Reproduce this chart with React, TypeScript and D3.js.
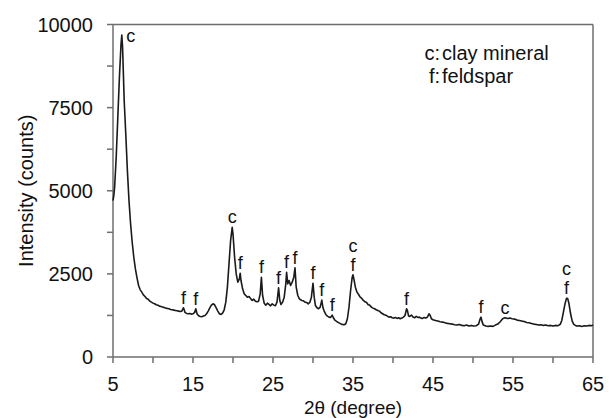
import React from "react";
import * as d3 from "d3";

const twoTheta = [
  5.0, 5.1, 5.2, 5.4, 5.6, 5.8, 6.0, 6.1, 6.2, 6.3, 6.4, 6.6, 6.8, 7.0, 7.2, 7.4, 7.6, 7.8, 8.0, 8.2, 8.4, 8.6, 8.8,
  9.0, 9.2, 9.4, 9.6, 9.8, 10.0, 10.2, 10.4, 10.6, 10.8, 11.0, 11.2, 11.4, 11.6, 11.8, 12.0, 12.2, 12.4, 12.6, 12.8,
  13.0, 13.2, 13.4, 13.6, 13.8, 13.9, 14.0, 14.2, 14.4, 14.6, 14.8, 15.0, 15.2, 15.35, 15.5, 15.7, 15.9, 16.1, 16.3,
  16.5, 16.7, 16.9, 17.1, 17.3, 17.5, 17.7, 17.9, 18.1, 18.3, 18.5, 18.7, 18.9, 19.1, 19.3, 19.5, 19.7, 19.9, 20.0,
  20.2, 20.4, 20.6, 20.8, 20.9, 21.0, 21.2, 21.4, 21.6, 21.8, 22.0, 22.2, 22.4, 22.6, 22.8, 23.0, 23.2, 23.4, 23.55,
  23.7, 23.9, 24.1, 24.3, 24.5, 24.7, 24.9, 25.1, 25.3, 25.5, 25.7, 25.85, 26.0, 26.2, 26.4, 26.6, 26.7, 26.85, 27.0,
  27.2, 27.4, 27.6, 27.75, 27.9, 28.1, 28.3, 28.6, 28.8, 29.0, 29.2, 29.4, 29.6, 29.8, 30.0, 30.15, 30.3, 30.5, 30.7,
  30.9, 31.1, 31.25, 31.4, 31.6, 31.8, 32.0, 32.2, 32.4, 32.55, 32.7, 33.0, 33.3, 33.6, 33.9, 34.1, 34.3, 34.5, 34.7,
  34.9, 35.0, 35.15, 35.3, 35.5, 35.7, 35.9, 36.1, 36.3, 36.5, 36.7, 36.9, 37.1, 37.3, 37.5, 37.7, 37.9, 38.1, 38.3,
  38.5, 38.7, 38.9, 39.1, 39.3, 39.5, 39.7, 39.9, 40.1, 40.3, 40.5, 40.7, 40.9, 41.1, 41.3, 41.5, 41.7, 41.8, 41.95,
  42.1, 42.3, 42.5, 42.7, 42.9, 43.1, 43.3, 43.5, 43.7, 43.9, 44.1, 44.3, 44.5, 44.65, 44.8, 45.0, 45.3, 45.6, 45.9,
  46.2, 46.5, 46.8, 47.1, 47.4, 47.7, 48.0, 48.3, 48.6, 48.9, 49.2, 49.5, 49.8, 50.1, 50.4, 50.7, 50.9, 51.0, 51.15,
  51.3, 51.6, 51.9, 52.2, 52.5, 52.8, 53.1, 53.4, 53.7, 54.0, 54.3, 54.6, 54.9, 55.2, 55.5, 55.8, 56.1, 56.4, 56.7,
  57.0, 57.3, 57.6, 57.9, 58.2, 58.5, 58.8, 59.1, 59.4, 59.7, 60.0, 60.3, 60.6, 60.9, 61.1, 61.3, 61.5, 61.7, 61.85,
  62.0, 62.2, 62.4, 62.6, 62.8, 63.0, 63.3, 63.6, 63.9, 64.2, 64.5, 64.8, 65.0,
];

const intensity = [
  4700, 4850, 5100, 6000, 7200, 8400, 9400, 9680, 9300, 8500, 7700, 6700, 5600, 4700, 4000, 3450, 3000, 2650, 2380, 2150, 2020, 1950, 1870,
  1820, 1760, 1740, 1680, 1650, 1620, 1600, 1570, 1560, 1530, 1520, 1500, 1490, 1470, 1460, 1450, 1430, 1420, 1410, 1400,
  1390, 1380, 1370, 1380, 1480, 1420, 1340, 1310, 1300, 1310, 1290, 1300, 1340, 1450, 1300, 1240, 1220, 1210, 1230,
  1250, 1300, 1380, 1480, 1560, 1600, 1570, 1480, 1380, 1300, 1280, 1320, 1420, 1650, 2100, 2800, 3500, 3900, 3700,
  3000, 2500, 2250, 2350, 2520, 2300, 2050, 1900, 1850, 1800, 1820, 1760, 1700, 1740, 1680, 1660, 1680, 1900, 2400,
  1850, 1620, 1560, 1620, 1580, 1540, 1600, 1560, 1540, 1650, 2080, 1700, 1580, 1650, 1800, 2200, 2550, 2200, 2300,
  2150, 2250, 2400, 2680, 2100, 1850, 1750, 1700, 1690, 1650, 1640, 1600, 1640, 1800, 2220, 1800, 1550, 1480, 1450,
  1500, 1710, 1480, 1380, 1280, 1230, 1200, 1190, 1260, 1180, 1120, 1060, 1020, 980, 970, 1000, 1150, 1500, 2000,
  2400, 2470, 2300, 2100, 1950, 1880, 1800, 1760, 1700, 1660, 1640, 1570, 1560, 1500, 1470, 1450, 1420, 1400, 1380,
  1330, 1300, 1270, 1260, 1230, 1200, 1210, 1180, 1170, 1190, 1160, 1180, 1150, 1170, 1200, 1250, 1450, 1400, 1230,
  1220, 1260, 1200, 1180, 1220, 1190, 1200, 1170, 1160, 1190, 1170, 1200, 1300, 1250, 1150, 1120, 1100, 1080, 1060,
  1050, 1030, 1010, 1000, 990, 970, 960, 980, 950, 940, 960, 930, 950, 930, 940, 990, 1150, 1200, 1050,
  960, 930, 920, 930, 920, 960, 990, 1060, 1150, 1180, 1160, 1170, 1150, 1140, 1110, 1100, 1080, 1070, 1040,
  1030, 1010, 990, 980, 960, 970, 950, 960, 940, 950, 930, 950, 940, 980, 1100, 1350, 1600, 1770, 1750,
  1600, 1300, 1080, 980, 950, 930, 940, 920, 940, 930, 950, 940, 960,
];

const xMajorTicks = [5, 15, 25, 35, 45, 55, 65];
const xMinorTicks = [10, 20, 30, 40, 50, 60];
const yMajorTicks = [0, 2500, 5000, 7500, 10000];
const yMinorTicks = [1250, 3750, 6250, 8750];

const labelDeg = [6.1, 13.8, 15.35, 19.9, 20.9, 23.55, 25.7, 26.7, 27.75, 30.0, 31.1, 32.4, 35.0, 41.7, 51.0, 54.0, 61.7];
const labelPeak = [9680, 1480, 1450, 3900, 2520, 2400, 2080, 2550, 2680, 2220, 1710, 1260, 2470, 1450, 1200, 1180, 1770];
const labelText = ["c", "f", "f", "c", "f", "f", "f", "f", "f", "f", "f", "f", "c/f", "f", "f", "c", "c/f"];

const legendKeys = ["c:", "f:"];
const legendNames = ["clay mineral", "feldspar"];

const FONT = "'Liberation Sans', Arial, sans-serif";

export default function App() {
  const W = 609, H = 418;
  const x = d3.scaleLinear().domain([5, 65]).range([113, 593]);
  const y = d3.scaleLinear().domain([0, 10000]).range([357, 24.5]);
  const pts = twoTheta.map((t, i) => [t, intensity[i]] as [number, number]);
  const line = d3.line<[number, number]>().x((d) => x(d[0])).y((d) => y(d[1]));
  const axisColor = "#6e6e6e";
  const x0 = x.range()[0], x1 = x.range()[1];
  const yb = y.range()[0], yt = y.range()[1];

  return (
    <svg width={W} height={H} style={{ position: "absolute", left: 0, top: 0, background: "#fff" }} fontFamily={FONT}>
      {/* frame */}
      <line x1={x0} y1={yt} x2={x1} y2={yt} stroke={axisColor} strokeWidth={1.5} />
      <line x1={x1} y1={yt} x2={x1} y2={yb} stroke={axisColor} strokeWidth={1.5} />
      <line x1={x0} y1={yt} x2={x0} y2={yb} stroke={axisColor} strokeWidth={1.5} />
      <line x1={x0} y1={yb} x2={x1} y2={yb} stroke={axisColor} strokeWidth={1.5} />
      {/* y ticks */}
      {yMajorTicks.concat(yMinorTicks).map((v) => (
        <line key={"yt" + v} x1={x0 - 6} x2={x0} y1={y(v)} y2={y(v)} stroke={axisColor} strokeWidth={1.5} />
      ))}
      {yMajorTicks.map((v) => (
        <text key={"yl" + v} x={93} y={y(v)} dy="0.36em" textAnchor="end" fontSize={20} fill="#111">
          {v}
        </text>
      ))}
      {/* x ticks */}
      {xMajorTicks.concat(xMinorTicks).map((v) => (
        <line key={"xt" + v} x1={x(v)} x2={x(v)} y1={yb} y2={yb + 6} stroke={axisColor} strokeWidth={1.5} />
      ))}
      {xMajorTicks.map((v) => (
        <text key={"xl" + v} x={x(v)} y={391} textAnchor="middle" fontSize={20} fill="#111">
          {v}
        </text>
      ))}
      <text x={(x0 + x1) / 2} y={414} textAnchor="middle" fontSize={19} fill="#111">
        2θ (degree)
      </text>
      <text transform={`translate(33,${(yt + yb) / 2}) rotate(-90)`} textAnchor="middle" fontSize={20} fill="#111">
        Intensity (counts)
      </text>
      {/* data */}
      <path d={line(pts) || ""} fill="none" stroke="#1a1a1a" strokeWidth={1.6} strokeLinejoin="round" />
      {/* peak labels */}
      {labelDeg.map((d, i) => {
        const parts = labelText[i].split("/");
        const first = i === 0;
        const px = first ? x(d) + 9 : x(d);
        const base = first ? y(labelPeak[i]) + 7 : y(labelPeak[i]) - 4;
        return parts
          .slice()
          .reverse()
          .map((t, j) => (
            <text key={"pl" + i + "-" + j} x={px} y={base - j * 19} textAnchor="middle" fontSize={18} fill="#111">
              {t}
            </text>
          ));
      })}
      {/* legend */}
      {legendKeys.map((k, i) => (
        <g key={"lg" + i}>
          <text x={440} y={60 + i * 23} textAnchor="end" fontSize={20} fill="#111">
            {k}
          </text>
          <text x={442} y={60 + i * 23} fontSize={20} fill="#111">
            {legendNames[i]}
          </text>
        </g>
      ))}
    </svg>
  );
}
